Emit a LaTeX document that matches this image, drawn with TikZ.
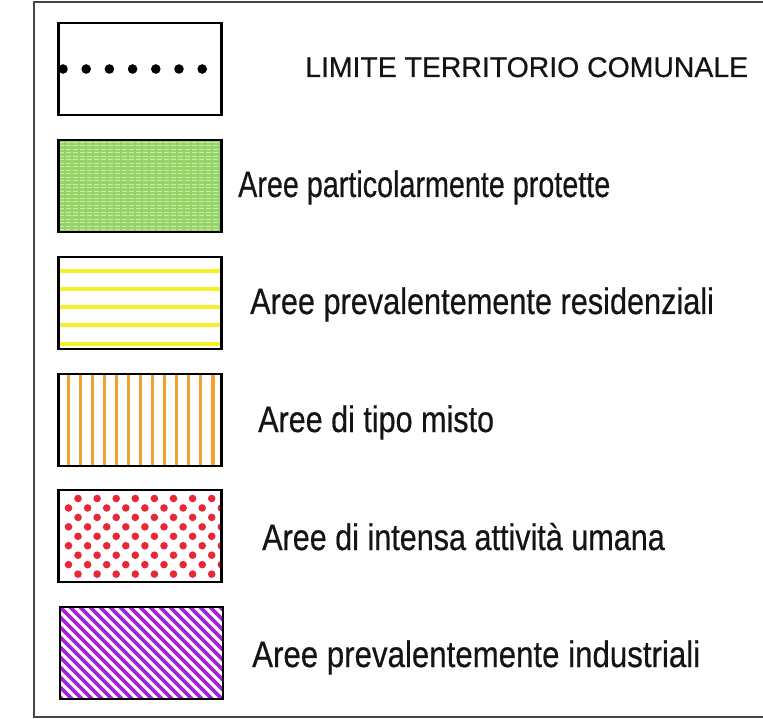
\documentclass[tikz,border=0pt]{standalone}
\usepackage{fontspec}
\setmainfont{Liberation Sans}
\newfontfamily\labfont[FakeBold=0.5]{Liberation Sans}
\definecolor{frameg}{RGB}{70,70,70}
\definecolor{gfill}{RGB}{150,212,105}
\definecolor{gline}{RGB}{200,238,165}
\definecolor{ylw}{RGB}{245,240,40}
\definecolor{org}{RGB}{245,160,50}
\definecolor{rdot}{RGB}{232,40,55}
\definecolor{purp}{RGB}{165,35,215}
\begin{document}
\begin{tikzpicture}[x=1pt,y=-1pt,
  legbox/.style={draw=black,line width=2.3pt,minimum width=163pt,minimum height=92pt,anchor=north west,inner sep=0pt,outer sep=0pt},
  lab/.style={anchor=base west,inner sep=0pt,font=\labfont\fontsize{29.5}{32}\selectfont,text=black!92},
  toplab/.style={anchor=base west,inner sep=0pt,font=\labfont\fontsize{28.4}{32}\selectfont,text=black!92}]
\useasboundingbox (0,0) rectangle (763,719);
\fill[white] (0,0) rectangle (763,719);
% outer frame
\draw[frameg,line width=1.6pt] (800,2) -- (34,2) -- (34,717) -- (800,717);

% 1 dotted box
\node[legbox] (b1) at (58.5,23) {};
\foreach \i in {0,...,6} \fill[black] (63+23.2*\i,69) circle (4.8pt);
\node[toplab] (t1) at (305,77) {LIMITE TERRITORIO COMUNALE};

% 2 green
\fill[gfill] (58.5,140) rectangle (221.5,232);
\begin{scope}
\clip (58.5,140) rectangle (221.5,232);
\foreach \j in {0,...,26} \draw[gline,line width=0.9pt,dash pattern=on 5pt off 2pt] (58.5,142+3.5*\j) -- (221.5,142+3.5*\j);
\end{scope}
\node[legbox] (b2) at (58.5,140) {};
\node[lab] (t2) at (238,197) {\scalebox{0.974}[1.25]{Aree particolarmente protette}};

% 3 yellow
\begin{scope}
\clip (58.5,257) rectangle (221.5,349);
\foreach \j in {0,...,4} \draw[ylw,line width=4pt] (58.5,270.7+18.2*\j) -- (221.5,270.7+18.2*\j);
\end{scope}
\node[legbox] (b3) at (58.5,257) {};
\node[lab] (t3) at (250,314) {\scalebox{1.04}[1.25]{Aree prevalentemente residenziali}};

% 4 orange
\begin{scope}
\clip (58.5,374) rectangle (221.5,466);
\foreach \j in {0,...,12} \draw[org,line width=3.2pt] (68.3+12.05*\j,374) -- (68.3+12.05*\j,466);
\end{scope}
\node[legbox] (b4) at (58.5,374) {};
\node[lab] (t4) at (258,432) {\scalebox{1.035}[1.25]{Aree di tipo misto}};

% 5 red dots
\begin{scope}
\clip (58.5,490) rectangle (221.5,582);
\foreach \r in {0,...,8} {
  \pgfmathsetmacro{\off}{mod(\r,2)==0 ? 78 : 68.5}
  \foreach \c in {0,...,8} \fill[rdot] (\off+19.1*\c,498.5+9.45*\r) circle (3.8pt);
}
\end{scope}
\node[legbox] (b5) at (58.5,490) {};
\node[lab] (t5) at (262,550) {\scalebox{1.036}[1.25]{Aree di intensa attività umana}};

% 6 purple diagonal
\begin{scope}
\clip (60,607) rectangle (223,699);
\foreach \j in {-12,...,18} \draw[purp,line width=3.8pt] (60+10*\j,607) -- (60+10*\j+100,707);
\end{scope}
\node[legbox] (b6) at (60,607) {};
\node[lab] (t6) at (252,667) {\scalebox{1.059}[1.25]{Aree prevalentemente industriali}};
\end{tikzpicture}
\end{document}
